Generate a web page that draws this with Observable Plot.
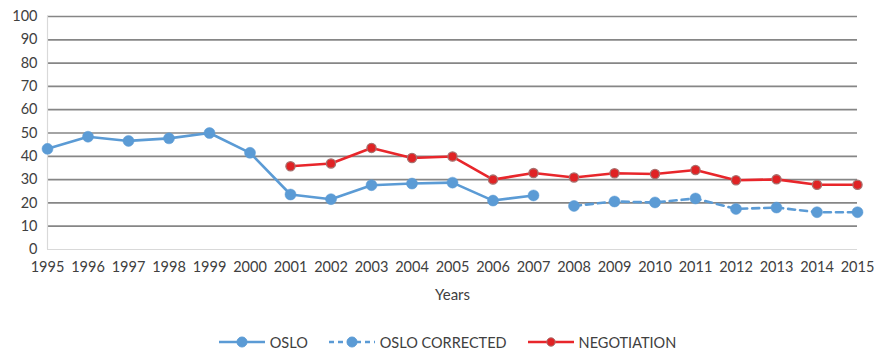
<!DOCTYPE html>
<html>
<head>
<meta charset="utf-8">
<script src="https://cdn.jsdelivr.net/npm/d3@7"></script>
<script src="https://cdn.jsdelivr.net/npm/@observablehq/plot@0.6"></script>
<style>
  html, body { margin: 0; padding: 0; background: #fff; }
  body { width: 878px; height: 349px; overflow: hidden; font-family: Lato, "Open Sans", sans-serif; }
  #legend { display: flex; justify-content: center; align-items: center; gap: 20px; height: 22px; margin-top: 13px; padding-left: 16px; font-size: 14.5px; color: #404040; }
  #legend .item { display: flex; align-items: center; gap: 4px; }
</style>
</head>
<body>
<div id="chart"></div>
<div id="legend"></div>
<script>
// Series values by year
const osloYears = [1995, 1996, 1997, 1998, 1999, 2000, 2001, 2002, 2003, 2004, 2005, 2006, 2007];
const osloValues = [43.2, 48.4, 46.6, 47.7, 50.0, 41.5, 23.6, 21.6, 27.6, 28.3, 28.7, 21.0, 23.2];

const correctedYears = [2008, 2009, 2010, 2011, 2012, 2013, 2014, 2015];
const correctedValues = [18.7, 20.6, 20.2, 21.9, 17.4, 18.0, 16.0, 16.0];

const negotiationYears = [2001, 2002, 2003, 2004, 2005, 2006, 2007, 2008, 2009, 2010, 2011, 2012, 2013, 2014, 2015];
const negotiationValues = [35.7, 36.9, 43.6, 39.3, 39.9, 30.0, 32.8, 30.9, 32.7, 32.4, 34.1, 29.7, 30.1, 27.8, 27.8];

const yearTicks = d3.range(1995, 2016);
const valueTicks = [0, 10, 20, 30, 40, 50, 60, 70, 80, 90, 100];

const BLUE = "#5b9bd5";
const RED = "#e8262b";

const toRows = (years, values) => years.map((year, i) => ({year, value: values[i]}));
const oslo = toRows(osloYears, osloValues);
const corrected = toRows(correctedYears, correctedValues);
const negotiation = toRows(negotiationYears, negotiationValues);

const chart = Plot.plot({
  width: 878,
  height: 318,
  marginLeft: 47,
  marginRight: 21,
  marginTop: 16,
  marginBottom: 69,
  style: {fontFamily: "Lato, 'Open Sans', sans-serif", fontSize: "14.5px", color: "#404040", background: "#fff"},
  x: {domain: [1995, 2015], ticks: yearTicks, tickFormat: "d", tickSize: 0, tickPadding: 12, label: null},
  y: {domain: [0, 100], ticks: valueTicks, tickSize: 0, tickPadding: 10, label: null},
  marks: [
    Plot.ruleY(valueTicks.filter(d => d > 0), {stroke: "#868686", strokeWidth: 1.7}),
    Plot.ruleY([0], {stroke: "#d9d9d9", strokeWidth: 1.2}),
    Plot.ruleX([1995], {y1: 0, y2: 100, stroke: "#d9d9d9", strokeWidth: 1.2}),
    Plot.line(oslo, {x: "year", y: "value", stroke: BLUE, strokeWidth: 2.6}),
    Plot.dot(oslo, {x: "year", y: "value", r: 5.5, fill: BLUE, stroke: BLUE, strokeWidth: 0.5}),
    Plot.line(corrected, {x: "year", y: "value", stroke: BLUE, strokeWidth: 2.6, strokeDasharray: "7,5"}),
    Plot.dot(corrected, {x: "year", y: "value", r: 5.5, fill: BLUE, stroke: BLUE, strokeWidth: 0.5}),
    Plot.line(negotiation, {x: "year", y: "value", stroke: RED, strokeWidth: 2.6}),
    Plot.dot(negotiation, {x: "year", y: "value", r: 4.6, fill: "#e02224", stroke: "#a8706e", strokeWidth: 1.3}),
    Plot.text(["Years"], {frameAnchor: "bottom", dy: 50, fontSize: 15, fill: "#404040"})
  ]
});
document.getElementById("chart").appendChild(chart);

// Legend with line + marker swatches
const legendItems = [
  {label: "OSLO", color: BLUE, dash: null, r: 5, fill: BLUE, stroke: BLUE},
  {label: "OSLO CORRECTED", color: BLUE, dash: "5,4", r: 5, fill: BLUE, stroke: BLUE},
  {label: "NEGOTIATION", color: RED, dash: null, r: 4.2, fill: "#e02224", stroke: "#a8706e"}
];
const legend = d3.select("#legend");
for (const item of legendItems) {
  const div = legend.append("div").attr("class", "item");
  const svg = div.append("svg").attr("width", 48).attr("height", 14);
  svg.append("line").attr("x1", 1).attr("x2", 47).attr("y1", 7).attr("y2", 7)
    .attr("stroke", item.color).attr("stroke-width", 2.4)
    .attr("stroke-dasharray", item.dash);
  svg.append("circle").attr("cx", 24).attr("cy", 7).attr("r", item.r)
    .attr("fill", item.fill).attr("stroke", item.stroke).attr("stroke-width", 1);
  div.append("span").text(item.label);
}
</script>
</body>
</html>
